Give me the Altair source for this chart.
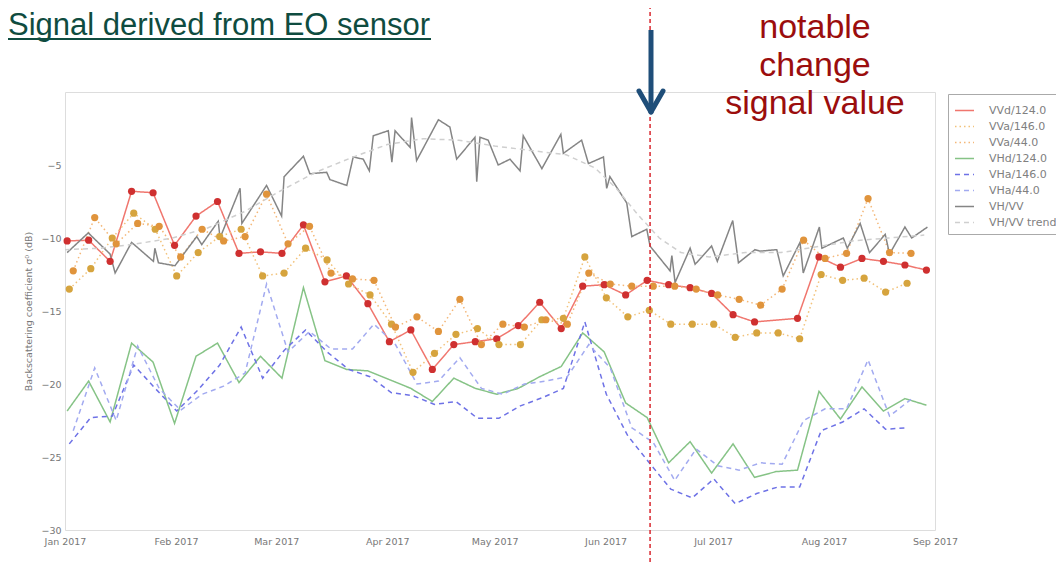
import altair as alt
import pandas as pd
from datetime import datetime, timedelta

BASE = datetime(2017, 1, 1)

# ---- acquisitions of descending orbit 124 (every 6 days) ----
d124_start = 0.6
vvd_124 = [-10.2, -10.15, -11.6, -6.8, -6.9, -10.5, -8.5, -7.5, -11.05, -10.95,
           -11.05, -9.1, -13.0, -12.6, -14.5, -17.1, -16.3, -19.0, -17.3, -17.1,
           -16.9, -16.0, -14.4, -16.2, -13.3, -13.2, -13.9, -12.9, -13.2, -13.4,
           -13.8, -15.25, -15.75, None, -15.5, -11.3, -12.0, -11.4, -11.6, -11.85,
           -12.2]
vhd_124 = [-21.85, -19.8, -22.6, -17.2, -18.5, -22.7, -18.1, -17.2, -19.9, -18.1,
           -19.6, -13.4, -18.4, -19.0, -19.1, -19.7, -20.3, -21.2, -19.6, -20.3,
           -20.7, -20.3, -19.5, -18.8, -16.5, -17.8, -21.3, -22.3, -25.4, -23.95,
           -26.1, -24.1, -26.4, -26.0, -25.9, -20.5, -22.4, -20.2, -21.85, -21.0,
           -21.45]

# ---- ascending orbit 146 ----
a146_start = 1.2
vva_146 = [-13.5, -12.1, -10.0, -8.3, -9.4, -12.6, -11.0, -9.9, -9.4, -12.6,
           -12.4, -10.7, -11.5, -13.15, -13.9, -15.9, -19.2, -17.9, -16.6, -16.2,
           -17.3, -17.3, -15.6, -15.5, -11.3, -14.1, -15.4, -14.95, -15.9, -15.9,
           -15.9, -16.8, -16.5, -16.5, -16.9, -12.5, -12.9, -12.75, -13.7, -13.1]
vha_146 = [-24.1, -22.3, -22.2, -18.7, -20.3, -21.85, -20.4, -18.7, -16.1, -19.6,
           -17.7, -16.3, -17.8, -19.0, -19.5, -20.6, -20.8, -21.4, -21.2, -22.35,
           -22.35, -21.5, -20.95, -20.3, -15.75, -20.7, -23.55, -25.4, -27.2, -27.8,
           -26.5, -28.2, -27.5, -27.05, -27.05, -23.2, -22.6, -21.7, -23.1, -23.0]

# ---- ascending orbit 44 ----
a44_start = 2.3
vva_44 = [-12.25, -8.6, -10.4, -9.0, -9.2, -11.3, -9.4, -10.2, -9.9, -7.0,
          -10.4, -9.2, -12.4, -12.8, -12.9, -16.1, -15.4, -16.4, -14.2, -17.3,
          -15.9, -16.1, -15.6, -15.9, -12.4, -13.15, -13.3, -13.3, -13.3, -13.5,
          -13.9, -14.2, -14.6, -13.5, -10.15, -11.4, -11.05, -7.3, -11.0, -11.05]
vha_44 = [-23.2, -18.9, -22.5, -17.4, -20.3, -21.8, -20.7, -20.15, -19.25, -13.15,
          -17.8, -16.4, -17.6, -17.6, -15.9, -17.3, -20.0, -19.8, -18.2, -20.3,
          -20.7, -20.0, -19.8, -19.5, -17.3, -18.9, -23.0, -24.0, -26.6, -24.45,
          -25.6, -25.9, -25.4, -25.5, -22.5, -21.7, -21.7, -18.35, -22.2, -21.05]

# ---- VH/VV ratio (all orbits) ----
vhvv_days = [0.6, 6.5, 12.6, 14.0, 18.6, 24.7, 25.1, 26.1, 30.7, 36.8, 38.2, 42.8,
             43.3, 48.9, 49.4, 56.3, 60.5, 61.2, 66.6, 68.4, 73.1, 74.0, 78.7, 80.5,
             83.3, 85.0, 86.1, 90.3, 91.3, 92.2, 96.4, 96.8, 98.2, 104.3, 107.5, 109.4,
             114.5, 115.0, 115.9, 118.2, 121.0, 124.3, 127.1, 128.0, 133.2, 138.5, 139.2,
             144.3, 146.2, 150.4, 151.3, 152.2, 156.9, 158.3, 162.5, 163.4, 169.0, 169.5,
             170.4, 174.6, 176.0, 180.6, 182.2, 186.5, 188.1, 192.7, 194.1, 198.8, 200.6,
             205.3, 206.2, 210.7, 211.4, 217.4, 218.5, 222.1, 224.7, 229.1, 230.3, 234.6,
             236.5, 240.9]
vhvv_vals = [-11.0, -9.65, -11.1, -12.4, -10.3, -11.6, -10.7, -11.7, -11.9, -9.9, -10.45, -8.85,
             -10.0, -6.6, -9.0, -6.4, -8.5, -5.8, -4.4, -5.6, -5.5, -6.0, -6.4, -4.45,
             -4.6, -5.4, -3.0, -2.65, -4.8, -2.65, -3.8, -1.75, -4.7, -1.9, -2.4, -4.6,
             -3.1, -6.15, -3.1, -3.3, -5.0, -4.6, -5.4, -3.0, -5.25, -2.9, -4.2,
             -3.3, -4.9, -4.45, -6.6, -5.8, -7.6, -9.9, -9.4, -10.55, -12.25, -11.2,
             -13.05, -10.7, -11.8, -10.55, -11.6, -8.8, -11.7, -10.8, -10.9, -10.8, -12.6,
             -10.3, -12.4, -9.25, -10.7, -10.0, -10.7, -9.0, -11.0, -9.75, -11.1, -9.25,
             -10.0, -9.25]
trend_days = [0, 10, 20, 30, 40, 50, 60, 70, 80, 90, 100, 110, 120, 130, 140, 148,
              154, 160, 166, 172, 180, 190, 200, 210, 220, 230, 240]
trend_vals = [-10.8, -10.7, -10.4, -10.0, -9.3, -8.2, -6.8, -5.5, -4.5, -3.6, -3.2,
              -3.3, -3.7, -4.0, -4.3, -5.2, -6.6, -8.4, -10.0, -11.0, -11.3, -11.0,
              -11.0, -10.6, -10.2, -10.0, -9.8]

change_date = ["2017-06-13T10:00:00Z"]

series_names = ["VVd/124.0", "VVa/146.0", "VVa/44.0", "VHd/124.0", "VHa/146.0",
                "VHa/44.0", "VH/VV", "VH/VV trend"]
line_colors = ["#f0766e", "#f2c27a", "#f4b778", "#86c386", "#6e72e6", "#a2aaf0",
               "#858585", "#cfcfcf"]
line_dash = [[1, 0], [1.5, 3], [1.5, 3], [1, 0], [5, 4], [5, 4], [1, 0], [5, 4]]
line_width = [1.5, 1.5, 1.5, 2, 1.6, 1.6, 2.2, 2]
point_series = ["VVd/124.0", "VVa/146.0", "VVa/44.0"]
point_fill = ["#cf3030", "#d6a43e", "#e0943c"]


def iso(d):
    return (BASE + timedelta(days=d)).strftime("%Y-%m-%dT%H:%M:%SZ")


rows = []


def add_regular(name, start, vals):
    for k, v in enumerate(vals):
        if v is not None:
            rows.append({"date": iso(start + 6 * k), "value": v, "series": name})


add_regular("VVd/124.0", d124_start, vvd_124)
add_regular("VVa/146.0", a146_start, vva_146)
add_regular("VVa/44.0", a44_start, vva_44)
add_regular("VHd/124.0", d124_start, vhd_124)
add_regular("VHa/146.0", a146_start, vha_146)
add_regular("VHa/44.0", a44_start, vha_44)
for d, v in zip(vhvv_days, vhvv_vals):
    rows.append({"date": iso(d), "value": v, "series": "VH/VV"})
for d, v in zip(trend_days, trend_vals):
    rows.append({"date": iso(d), "value": v, "series": "VH/VV trend"})

df = pd.DataFrame(rows)
df_pts = df[df["series"].isin(point_series)]

FONT = "DejaVu Sans"
xscale = alt.Scale(type="utc", domain=[alt.DateTime(year=2017, month=1, date=1, utc=True),
                                        alt.DateTime(year=2017, month=9, date=1, utc=True)])
yscale = alt.Scale(domain=[-30, 0], nice=False, zero=False)

xaxis = alt.Axis(values=[alt.DateTime(year=2017, month=m, date=1, utc=True) for m in range(1, 10)],
                 format="%b %Y", labelFont=FONT, labelFontSize=9.5, labelColor="#777",
                 grid=False, domain=False, ticks=False, labelPadding=6, labelFlush=False,
                 labelOverlap=False, title=None)
yaxis = alt.Axis(values=[-30, -25, -20, -15, -10, -5], labelFont=FONT, labelFontSize=9.5,
                 labelColor="#777", grid=False, domain=False, ticks=False, labelPadding=4,
                 title="Backscattering coefficient σ⁰ (dB)", titleFont=FONT, titleFontSize=9.5,
                 titleFontWeight="normal", titleColor="#777", titlePadding=7)

legend = alt.Legend(title=None, orient="none", legendX=883, legendY=2, symbolType="stroke",
                    symbolSize=361, symbolStrokeWidth=1.6, labelFont=FONT, labelFontSize=11,
                    labelColor="#808080", labelOffset=14, rowPadding=0, padding=6,
                    fillColor="white", strokeColor="#aaaaaa", labelLimit=200)

lines = alt.Chart(df).mark_line().encode(
    x=alt.X("date:T", scale=xscale, axis=xaxis),
    y=alt.Y("value:Q", scale=yscale, axis=yaxis),
    color=alt.Color("series:N", scale=alt.Scale(domain=series_names, range=line_colors),
                    legend=legend),
    strokeDash=alt.StrokeDash("series:N", scale=alt.Scale(domain=series_names, range=line_dash),
                              legend=legend),
    strokeWidth=alt.StrokeWidth("series:N", scale=alt.Scale(domain=series_names, range=line_width),
                                legend=None),
)

points = alt.Chart(df_pts).mark_point(filled=True, size=52, opacity=1, strokeWidth=0).encode(
    x="date:T",
    y="value:Q",
    fill=alt.Fill("series:N", scale=alt.Scale(domain=point_series, range=point_fill), legend=None),
)

one = pd.DataFrame({"k": [0]})

change_rule = alt.Chart(pd.DataFrame({"date": change_date})).mark_rule(
    color="#d9282f", strokeWidth=1.5, strokeDash=[4, 3]).encode(
    x="date:T", y=alt.value(-87), y2=alt.value(480))

arrow_color = "#1f4e79"
shaft = alt.Chart(one).mark_rule(color=arrow_color, strokeWidth=5).encode(
    x=alt.value(586), y=alt.value(-62), y2=alt.value(19))
head_l = alt.Chart(one).mark_rule(color=arrow_color, strokeWidth=5, strokeCap="round").encode(
    x=alt.value(574), y=alt.value(-1), x2=alt.value(586), y2=alt.value(20))
head_r = alt.Chart(one).mark_rule(color=arrow_color, strokeWidth=5, strokeCap="round").encode(
    x=alt.value(598), y=alt.value(-1), x2=alt.value(586), y2=alt.value(20))

title_txt = alt.Chart(one).mark_text(align="left", baseline="alphabetic", fontSize=31,
                                     font="Liberation Sans", color="#0f4c40").encode(
    x=alt.value(-57), y=alt.value(-57), text=alt.value("Signal derived from EO sensor"))
title_ul = alt.Chart(one).mark_rule(color="#0f4c40", strokeWidth=2).encode(
    x=alt.value(-57), x2=alt.value(366), y=alt.value(-53))


def ann(txt, y):
    return alt.Chart(one).mark_text(align="center", baseline="alphabetic", fontSize=34,
                                    font="Liberation Sans", color="#9b0d0d").encode(
        x=alt.value(750), y=alt.value(y), text=alt.value(txt))


chart = alt.layer(
    lines, points, change_rule, shaft, head_l, head_r, title_txt, title_ul,
    ann("notable", -54), ann("change", -16), ann("signal value", 22)
).properties(
    width=870, height=438,
    padding={"left": 57, "top": 84, "right": 121, "bottom": 33},
    autosize=alt.AutoSizeParams(type="none"),
).configure_view(stroke="#a8a8a8", strokeWidth=2).configure(background="white")

chart.save("out.html", embed_options={"renderer": "svg", "actions": False})
